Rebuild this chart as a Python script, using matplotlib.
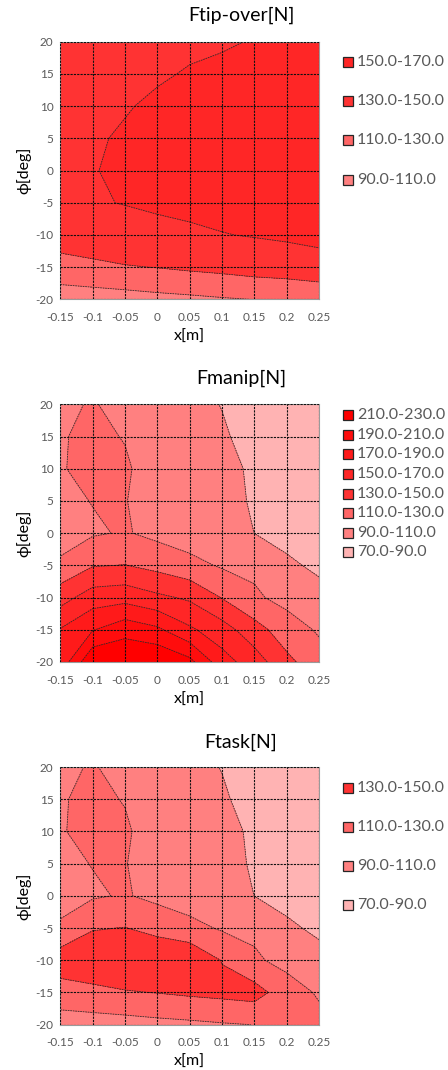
import numpy as np
import matplotlib.pyplot as plt
from matplotlib.patches import Rectangle

plt.rcParams['font.family'] = ['Lato', 'Open Sans', 'DejaVu Sans']

# grid of the contour data
x_m = [-0.15, -0.1, -0.05, 0, 0.05, 0.1, 0.15, 0.2, 0.25]
phi_deg = [-20, -15, -10, -5, 0, 5, 10, 15, 20]
x_labels = ['-0.15', '-0.1', '-0.05', '0', '0.05', '0.1', '0.15', '0.2', '0.25']
phi_labels = ['-20', '-15', '-10', '-5', '0', '5', '10', '15', '20']

# rows: phi = -20 ... 20, columns: x = -0.15 ... 0.25
f_tipover = [
    [100.0, 100.6, 102.0, 104.5, 106.2, 108.4, 110.2, 113.0, 116.0],
    [121.7, 125.4, 128.7, 130.5, 133.2, 135.4, 138.5, 139.6, 141.9],
    [140.6, 143.0, 145.4, 146.4, 147.3, 149.4, 151.0, 152.9, 155.4],
    [142.0, 149.1, 150.4, 152.0, 154.0, 155.5, 157.0, 157.5, 158.0],
    [143.5, 149.0, 154.0, 157.0, 159.0, 160.0, 161.0, 161.0, 161.5],
    [143.0, 147.5, 152.5, 156.0, 158.0, 159.0, 160.0, 160.5, 161.0],
    [142.0, 145.0, 148.5, 153.5, 156.0, 157.0, 158.0, 158.5, 159.0],
    [140.0, 142.5, 145.0, 147.6, 151.6, 154.0, 155.0, 156.0, 156.5],
    [138.0, 140.0, 142.0, 144.0, 146.0, 148.0, 151.0, 152.0, 153.0],
]

f_manip = [
    [176.6, 228.0, 229.0, 229.0, 216.0, 178.0, 160.0, 135.0, 118.0],
    [171.2, 189.0, 202.8, 194.0, 173.3, 158.9, 138.0, 119.5, 107.7],
    [141.8, 160.0, 162.8, 154.0, 147.0, 129.2, 113.0, 104.0, 95.8],
    [114.0, 128.8, 130.5, 124.0, 116.0, 107.9, 106.0, 93.0, 86.75],
    [100.0, 107.9, 111.6, 105.0, 100.0, 100.0, 89.9, 84.7, 83.0],
    [106.3, 110.5, 110.6, 103.0, 98.0, 96.0, 88.1, 83.0, 81.0],
    [109.25, 113.0, 112.5, 101.0, 96.0, 94.0, 87.9, 82.0, 80.0],
    [108.6, 114.0, 109.1, 100.0, 95.0, 92.0, 84.3, 81.0, 79.0],
    [102.3, 113.0, 96.3, 99.0, 94.5, 89.5, 83.0, 80.0, 78.0],
]

f_task = [
    [100.0, 100.6, 102.0, 104.5, 106.2, 108.4, 110.2, 113.0, 116.0],
    [121.7, 125.4, 128.7, 130.5, 133.2, 135.4, 138.0, 119.5, 107.7],
    [140.6, 143.0, 145.4, 146.4, 147.0, 129.2, 113.0, 104.0, 95.8],
    [114.0, 128.8, 130.5, 124.0, 116.0, 107.9, 106.0, 93.0, 86.75],
    [100.0, 107.9, 111.6, 105.0, 100.0, 100.0, 89.9, 84.7, 83.0],
    [106.3, 110.5, 110.6, 103.0, 98.0, 96.0, 88.1, 83.0, 81.0],
    [109.25, 113.0, 112.5, 101.0, 96.0, 94.0, 87.9, 82.0, 80.0],
    [108.6, 114.0, 109.1, 100.0, 95.0, 92.0, 84.3, 81.0, 79.0],
    [102.3, 113.0, 96.3, 99.0, 94.5, 89.5, 83.0, 80.0, 78.0],
]

levels_tipover = [90, 110, 130, 150, 170]
levels_manip = [70, 90, 110, 130, 150, 170, 190, 210, 230]
levels_task = [70, 90, 110, 130, 150]

# colour of each band, keyed by its lower bound
band_colors = {70: '#FFB3B3', 90: '#FF8080', 110: '#FF6666', 130: '#FF3333',
               150: '#FF2626', 170: '#FF1A1A', 190: '#FF0D0D', 210: '#FF0000'}

W, H = 448, 1070
fig = plt.figure(figsize=(W / 100, H / 100), dpi=100)

gray = '#595959'


def panel(data, levels, title, top_px, title_px, legend_px):
    left, right, bottom = 60.3, 319.0, top_px + 257.7
    ax = fig.add_axes([left / W, 1 - bottom / H, (right - left) / W, (bottom - top_px) / H])
    cols = [band_colors[l] for l in levels[:-1]]
    ax.contourf(x_m, phi_deg, np.array(data), levels=levels, colors=cols)
    ax.contour(x_m, phi_deg, np.array(data), levels=levels[1:-1], colors='#2e2e2e',
               linewidths=0.6, linestyles=[(0, (2, 1))])
    ax.set_xlim(-0.15, 0.25)
    ax.set_ylim(-20, 20)
    ax.set_xticks(x_m)
    ax.set_xticklabels(x_labels)
    ax.set_yticks(phi_deg)
    ax.set_yticklabels(phi_labels)
    ax.tick_params(length=0, labelsize=8.5, labelcolor=gray, pad=5)
    ax.tick_params(axis='x', pad=9)
    ax.set_axisbelow(False)
    ax.grid(True, color='#111111', linestyle=(0, (2, 1)), linewidth=0.8)
    for s in ax.spines.values():
        s.set_color('#9a9a9a')
        s.set_linestyle((0, (1.5, 1)))
        s.set_linewidth(0.8)
    ax.set_xlabel('x[m]', fontsize=11.5, labelpad=5)
    ax.set_ylabel('ϕ[deg]', fontsize=11.5, labelpad=3)
    fig.text(241 / W, 1 - title_px / H, title, fontsize=14, ha='center', va='center')
    # legend, highest band first
    for lo, hi, ypx in zip(levels[-2::-1], levels[:0:-1], legend_px):
        fig.add_artist(Rectangle((343 / W, 1 - (ypx + 5.2) / H), 10.4 / W, 10.4 / H,
                                 facecolor=band_colors[lo], edgecolor='#262626',
                                 linewidth=0.9, transform=fig.transFigure))
        fig.text(357 / W, 1 - ypx / H, '%.1f-%.1f' % (lo, hi), fontsize=11.5,
                 color=gray, ha='left', va='center')


panel(f_tipover, levels_tipover, 'Ftip-over[N]', 41.7, 15, [62, 101, 140, 180])
panel(f_manip, levels_manip, 'Fmanip[N]', 404.3, 378, [415, 435, 454, 474, 494, 513, 533, 552])
panel(f_task, levels_task, 'Ftask[N]', 767.0, 742, [788, 827, 866, 905])

plt.savefig('out.png', dpi=100)
